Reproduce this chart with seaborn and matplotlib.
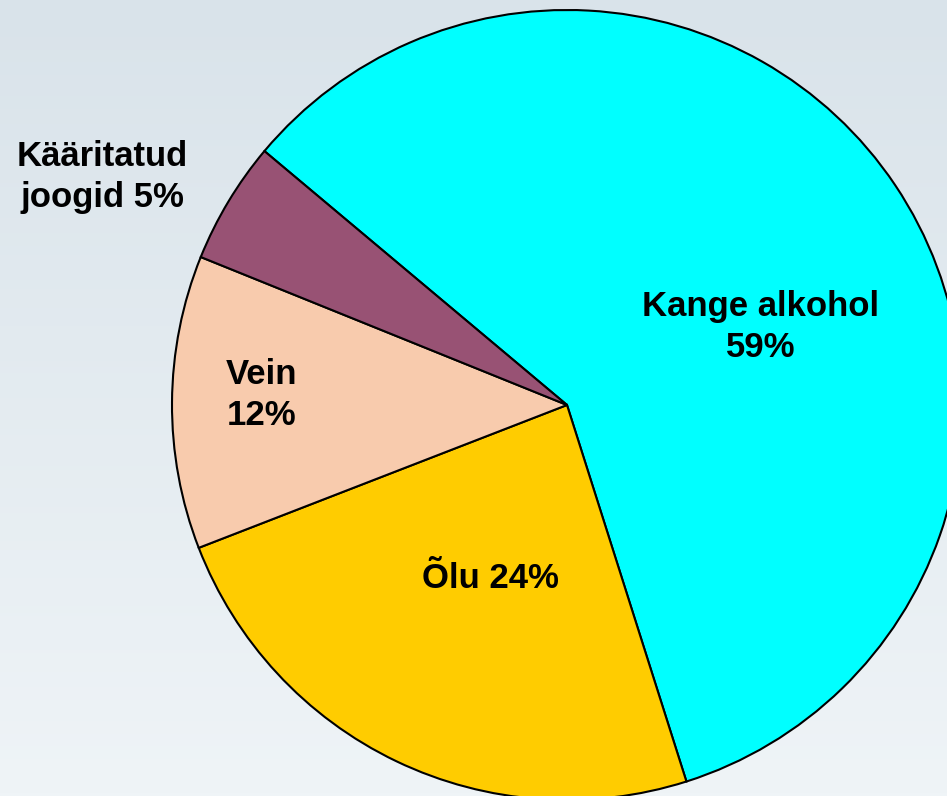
"""Alkoholi tarbimine liikide kaupa - sektordiagramm."""
import numpy as np
import matplotlib
matplotlib.use("Agg")
import matplotlib.pyplot as plt
from matplotlib.colors import LinearSegmentedColormap
import seaborn as sns

# Andmed
categories = ["Kange alkohol", "Õlu", "Vein", "Kääritatud joogid"]
shares = [59, 24, 12, 5]
labels = ["Kange alkohol\n59%", "Õlu 24%", "Vein\n12%", "Kääritatud\njoogid 5%"]
colors = ["#00FFFF", "#FFCC00", "#F8CBAD", "#985274"]

sns.set_style("white")
plt.rcParams['font.family'] = ['Liberation Sans', 'DejaVu Sans']

W, H = 947, 796
fig = plt.figure(figsize=(W / 100, H / 100), dpi=100)
ax = fig.add_axes([0, 0, 1, 1])

# Taust: vertikaalne gradient
bg = LinearSegmentedColormap.from_list("bg", ["#EFF4F7", "#D9E3EA"])
grad = np.linspace(0, 1, 256).reshape(-1, 1)
ax.imshow(grad, extent=(0, W, 0, H), origin="lower", cmap=bg,
          aspect="auto", zorder=0)

wedges, _ = ax.pie(
    shares,
    colors=colors,
    startangle=140,
    counterclock=False,
    center=(567, H - 405),
    radius=395,
    wedgeprops=dict(edgecolor="black", linewidth=1.5, zorder=2),
    frame=True,
)

# Siltide asukohad pikslites (x, y ülevalt)
label_pos = [(761, 327), (490, 578), (262, 395), (102, 177)]
for text, (x, y) in zip(labels, label_pos):
    ax.text(x, H - y, text, ha="center", va="center", fontsize=25,
            fontweight="bold", linespacing=1.3, color="black", zorder=3)

ax.set_xlim(0, W)
ax.set_ylim(0, H)
ax.set_aspect("equal")
ax.axis("off")

fig.savefig("out.png", dpi=100)
plt.close(fig)
